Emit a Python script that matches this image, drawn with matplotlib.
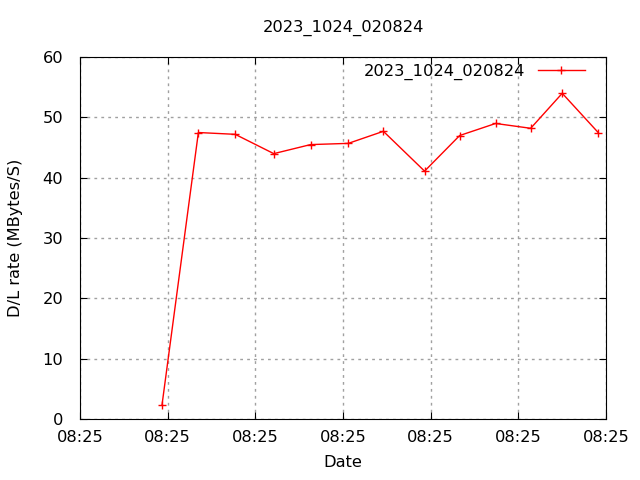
import matplotlib
matplotlib.use('Agg')
import matplotlib.pyplot as plt

title = '2023_1024_020824'
# seconds after 08:25:00
secs = [9.35, 13.5, 17.7, 22.1, 26.3, 30.6, 34.6, 39.3, 43.3, 47.4, 51.4, 55.0, 59.1]
rate = [2.3, 47.5, 47.2, 44.0, 45.5, 45.7, 47.7, 41.1, 47.0, 49.0, 48.2, 54.0, 47.5]
xticks = [0, 10, 20, 30, 40, 50, 60]
xticklabels = ['08:25'] * 7
yticks = [0, 10, 20, 30, 40, 50, 60]

plt.rcParams['font.family'] = 'DejaVu Sans'
plt.rcParams['font.size'] = 11.7

fig = plt.figure(figsize=(6.4, 4.8), dpi=100)
ax = fig.add_axes([0.125, 0.127, 0.822, 0.754])

ax.plot(secs, rate, color='red', lw=1, marker='+', ms=6, mew=1, label=title)

ax.set_xlim(0, 60)
ax.set_ylim(0, 60)
ax.set_xticks(xticks)
ax.set_xticklabels(xticklabels)
ax.set_yticks(yticks)
ax.tick_params(axis='x', direction='in', top=True, length=5, pad=8)
ax.tick_params(axis='y', direction='in', right=True, length=5, pad=12)
ax.grid(True, color='#a0a0a0', linestyle=(0, (2, 3)), lw=1)

ax.set_xlabel('Date', labelpad=7)
ax.set_ylabel('D/L rate (MBytes/S)', labelpad=14)
ax.set_title(title, pad=18, fontsize=11.7)

ax.legend(loc='upper right', bbox_to_anchor=(0.96, 0.982), frameon=False,
          markerfirst=False, handlelength=2.9, handletextpad=0.8,
          borderaxespad=0, borderpad=0)

plt.savefig('out.png', dpi=100)
plt.close()
